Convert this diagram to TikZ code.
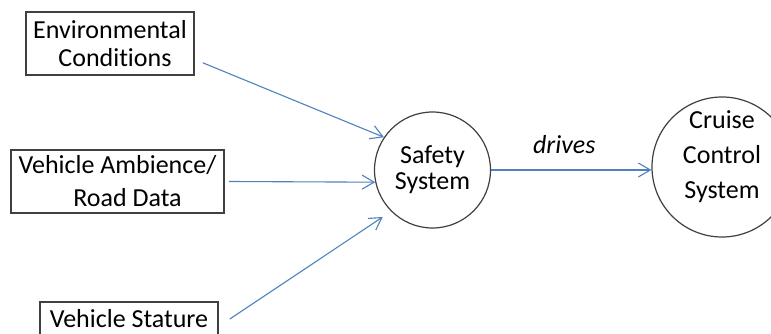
\documentclass[tikz,border=0pt]{standalone}
\usepackage{fontspec}
\setmainfont[Ligatures=NoCommon]{Carlito}
\usetikzlibrary{arrows.meta}
\definecolor{flowblue}{RGB}{79,129,189}
\definecolor{edgegray}{RGB}{64,64,64}
\begin{document}
\begin{tikzpicture}[x=1pt,y=-1pt,
    txt/.style={font=\fontsize{26}{28}\selectfont, align=center, text=black},
    inbox/.style={txt, draw=edgegray, line width=1.6pt, inner sep=0pt},
    blob/.style={circle, draw=edgegray, line width=1.2pt, inner sep=0pt},
    feed/.style={draw=flowblue, line width=1.1pt, -{Straight Barb[length=12pt,width=14pt]}}]
  \useasboundingbox (0,0) rectangle (771,334);
  % inputs
  \node[inbox, minimum width=168, minimum height=63] (env) at (110,43.5)
    {Environmental\\\hspace*{10pt}Conditions};
  \node[inbox, minimum width=213, minimum height=63] (amb) at (117.5,181.5)
    {Vehicle Ambience/\\[5pt]\hspace*{20pt}Road Data};
  \node[inbox, minimum width=178, minimum height=34] (stat) at (129,319)
    {Vehicle Stature};
  % systems
  \node[blob, txt, minimum size=116] (safety) at (432.5,170)
    {Safety\\[-2pt]System};
  \node[blob, minimum size=140] (cruise) at (722,167) {};
  \node[txt] (cruiselbl) at (722,157) {Cruise\\[7pt]Control\\[7pt]System};
  \begin{scope}
    \draw[feed] ([xshift=8pt,yshift=13pt]env.south east) to (safety.146.6);
    \draw[feed] ([xshift=4pt]amb.east) to (safety.192);
    \draw[feed, shorten >=10pt] ([xshift=11pt]stat.east) to (safety.225);
    \draw[feed] (safety.east) to
      node[midway, yshift=25pt, xshift=-7pt, font=\fontsize{26}{28}\selectfont\itshape] (drv) {drives}
      (safety.east -| cruise.west);
  \end{scope}
\end{tikzpicture}
\end{document}
